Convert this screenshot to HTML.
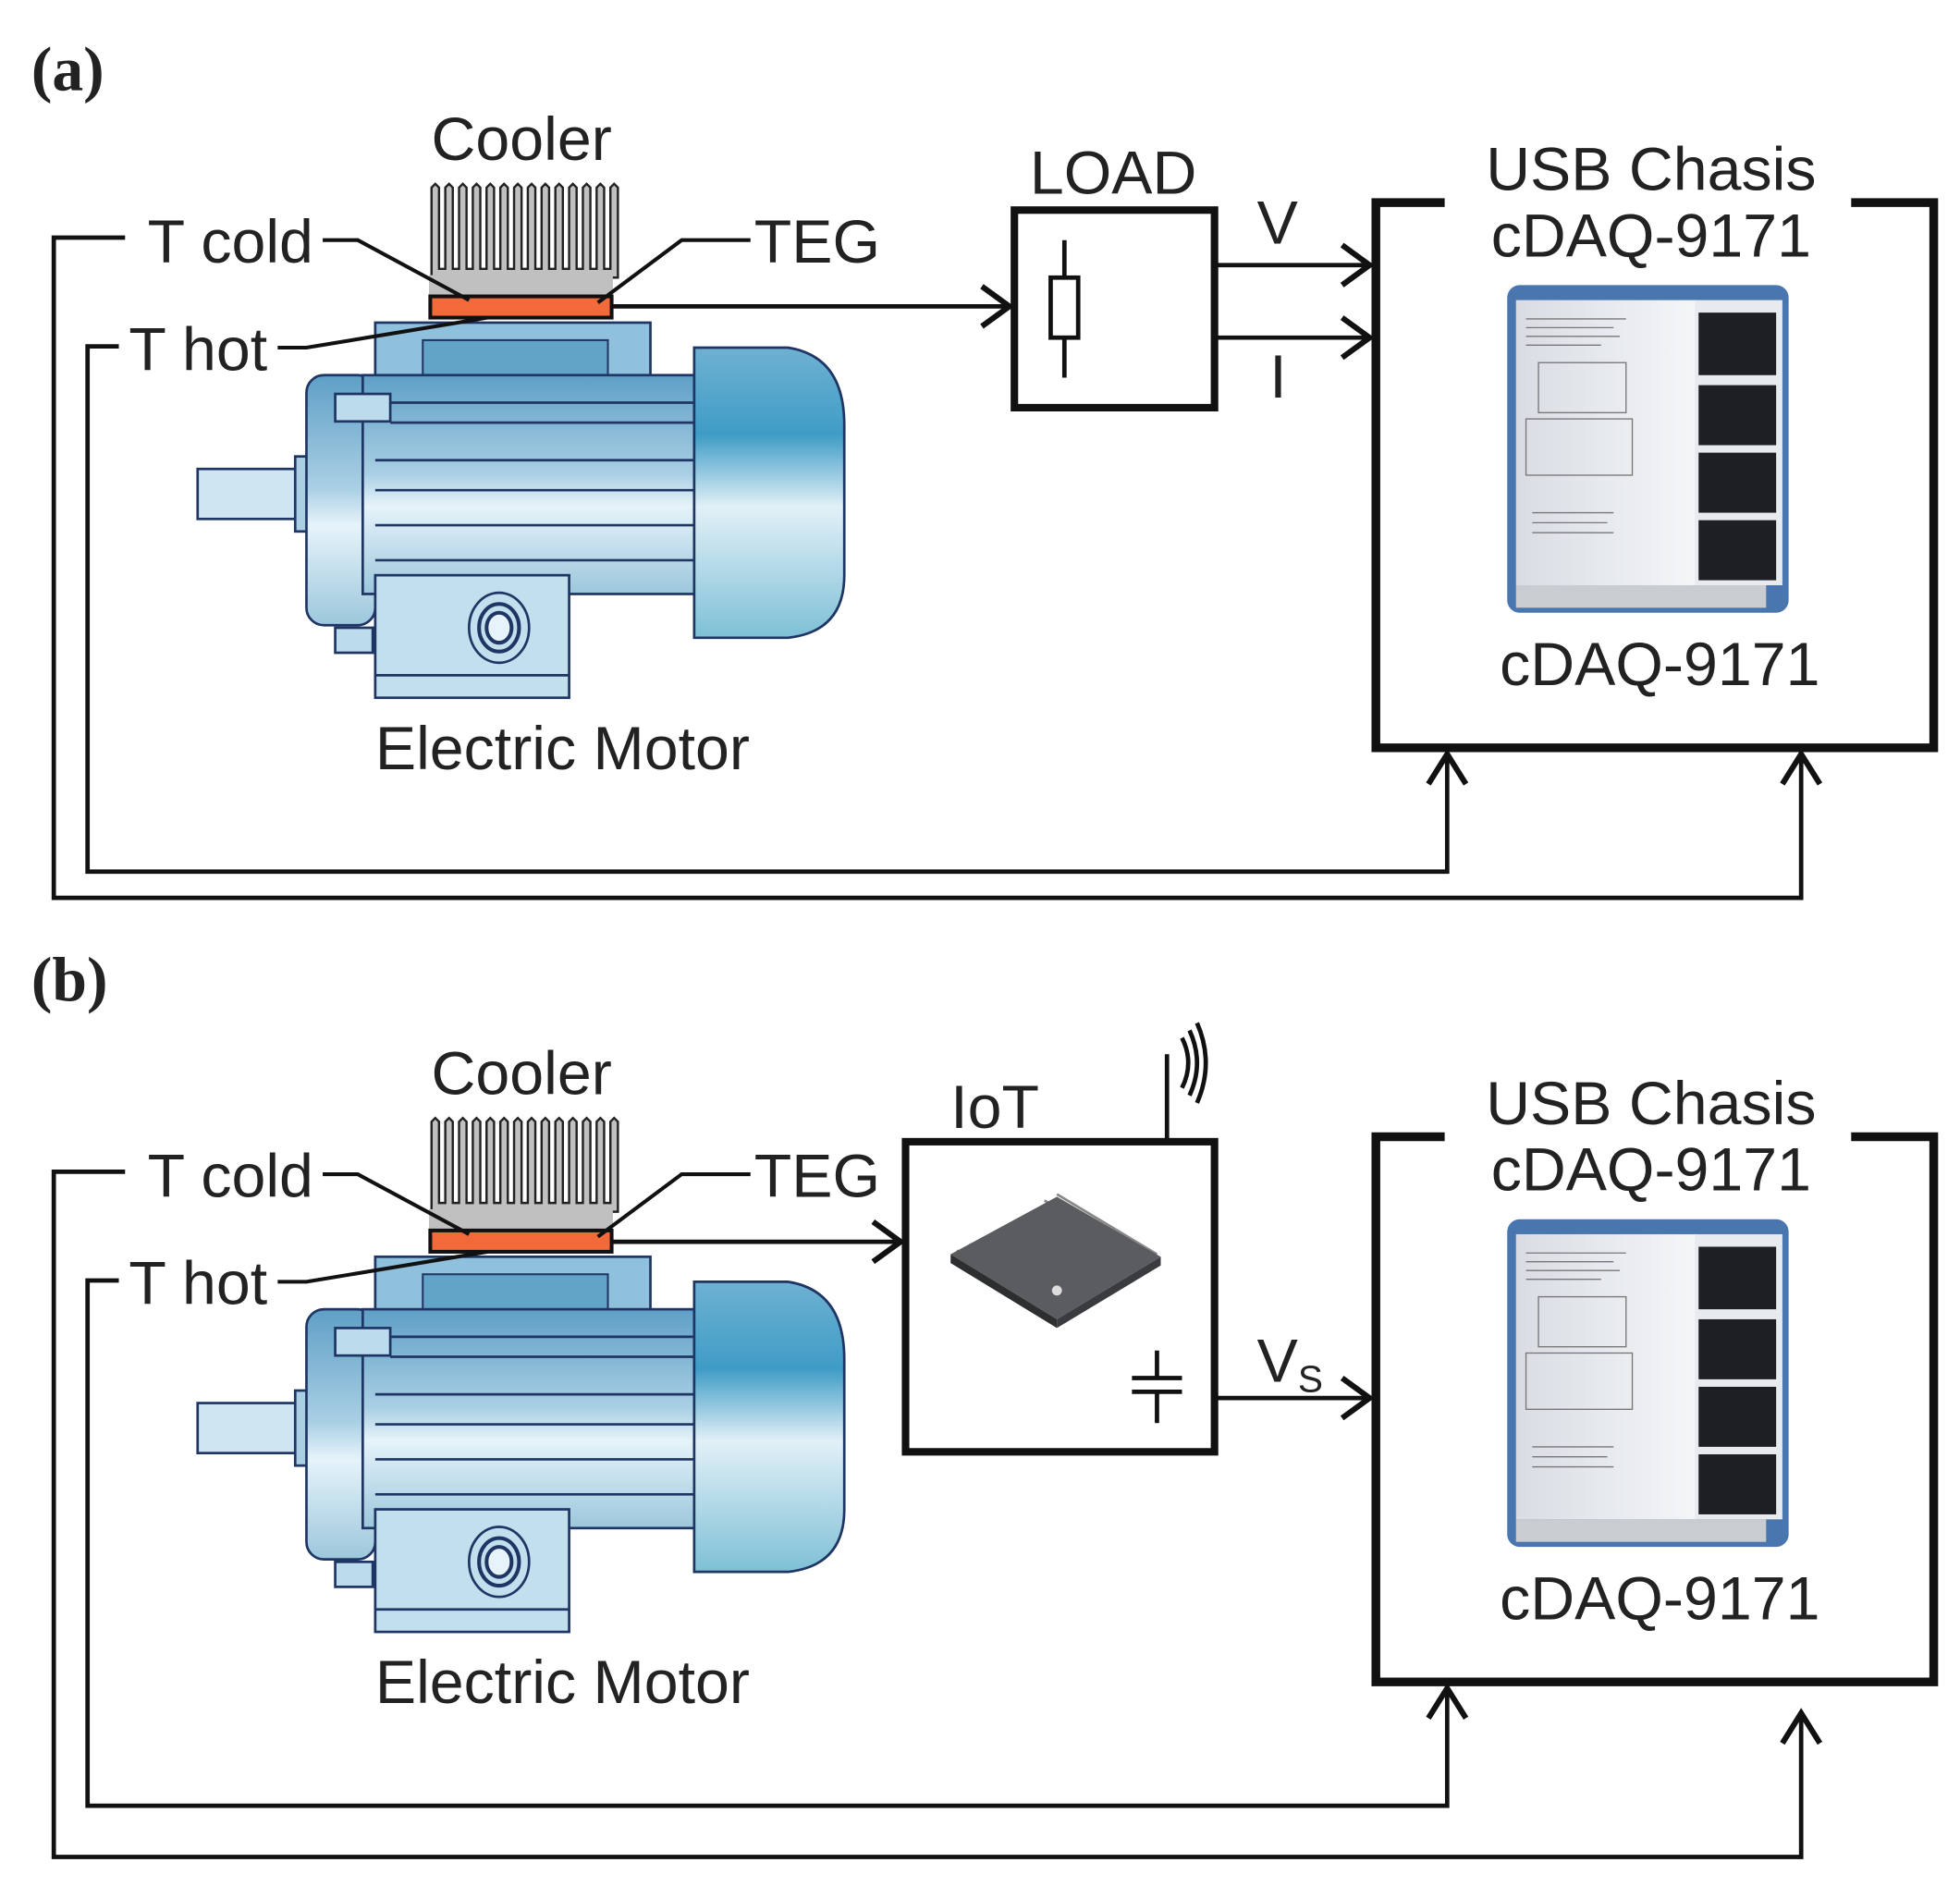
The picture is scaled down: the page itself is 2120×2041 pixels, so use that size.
<!DOCTYPE html>
<html><head><meta charset="utf-8"><style>
html,body{margin:0;padding:0;background:#fff;}
svg{display:block;}
text{font-family:"Liberation Sans",sans-serif;fill:#222;}
.s{font-family:"Liberation Serif",serif;font-weight:bold;fill:#222;}
</style></head><body>
<svg width="2120" height="2041" viewBox="0 0 1567 1509" preserveAspectRatio="none" xmlns="http://www.w3.org/2000/svg">
<defs>
<linearGradient id="bg" x1="0" y1="0" x2="0" y2="1">
<stop offset="0" stop-color="#5f9fc6"/><stop offset="0.45" stop-color="#a9cfe4"/><stop offset="0.6" stop-color="#e6f3fa"/><stop offset="1" stop-color="#9cc7dc"/></linearGradient>
<linearGradient id="fan" x1="0" y1="0" x2="0" y2="1">
<stop offset="0" stop-color="#6fb1d2"/><stop offset="0.3" stop-color="#3f9cc6"/><stop offset="0.55" stop-color="#e2f0f7"/><stop offset="1" stop-color="#7ec0d6"/></linearGradient>
<linearGradient id="mod" x1="0" y1="0" x2="1" y2="0">
<stop offset="0" stop-color="#d9dde3"/><stop offset="1" stop-color="#f4f6f8"/></linearGradient>
<g id="motor" stroke="#1f3563" stroke-width="2">
<rect x="158" y="375" width="85" height="40" fill="#cfe6f2"/>
<rect x="236" y="365" width="10" height="60" fill="#a9cfe4"/>
<rect x="245" y="300" width="55" height="200" rx="14" fill="url(#bg)"/>
<rect x="300" y="258" width="220" height="44" fill="#8fc0dc"/>
<rect x="338" y="272" width="148" height="30" fill="#62a3c8" stroke-width="1.5"/>
<rect x="290" y="300" width="265" height="175" fill="url(#bg)"/>
<line x1="312" y1="322" x2="555" y2="322"/><line x1="312" y1="338" x2="555" y2="338"/>
<line x1="300" y1="368" x2="555" y2="368"/><line x1="300" y1="392" x2="555" y2="392"/>
<line x1="300" y1="420" x2="555" y2="420"/><line x1="300" y1="448" x2="555" y2="448"/>
<rect x="268" y="315" width="44" height="22" fill="#bcdcee"/>
<rect x="268" y="502" width="30" height="20" fill="#bcdcee"/>
<path d="M555 278 H630 Q675 285 675 340 V460 Q675 505 630 510 H555 Z" fill="url(#fan)"/>
<rect x="300" y="460" width="155" height="98" fill="#c2dfee"/>
<line x1="300" y1="540" x2="455" y2="540"/>
<ellipse cx="399" cy="502" rx="24" ry="28" fill="none"/>
<ellipse cx="399" cy="502" rx="16" ry="19" fill="none" stroke-width="3"/>
<ellipse cx="399" cy="502" rx="10" ry="12" fill="#e6f3fa" stroke-width="3"/>
</g>
<g id="module">
<rect x="1205" y="228" width="225" height="262" rx="10" fill="#4a76b0"/>
<rect x="1212" y="240" width="145" height="228" fill="url(#mod)"/>
<rect x="1355" y="240" width="70" height="228" fill="#e8ebee"/>
<g fill="#1d1f22"><rect x="1358" y="250" width="62" height="50"/><rect x="1358" y="308" width="62" height="48"/><rect x="1358" y="362" width="62" height="48"/><rect x="1358" y="416" width="62" height="48"/></g>
<g stroke="#777" stroke-width="1"><line x1="1220" y1="255" x2="1300" y2="255"/><line x1="1220" y1="262" x2="1290" y2="262"/><line x1="1220" y1="269" x2="1295" y2="269"/><line x1="1220" y1="276" x2="1280" y2="276"/><rect x="1230" y="290" width="70" height="40" fill="none"/><rect x="1220" y="335" width="85" height="45" fill="none"/><line x1="1225" y1="410" x2="1290" y2="410"/><line x1="1225" y1="418" x2="1285" y2="418"/><line x1="1225" y1="426" x2="1290" y2="426"/></g>
<rect x="1212" y="468" width="200" height="18" fill="#c9cdd2"/>
</g>
<g id="cool">
<g fill="#c0c0c0" stroke="#222" stroke-width="1.8">
<path d="M345 222 V150 l3 -3 3 3 V215 h5 V150 l3 -3 3 3 V215 h5 V150 l3 -3 3 3 V215 h5 V150 l3 -3 3 3 V215 h5 V150 l3 -3 3 3 V215 h5 V150 l3 -3 3 3 V215 h5 V150 l3 -3 3 3 V215 h5 V150 l3 -3 3 3 V215 h5 V150 l3 -3 3 3 V215 h5 V150 l3 -3 3 3 V215 h5 V150 l3 -3 3 3 V215 h5 V150 l3 -3 3 3 V215 h5 V150 l3 -3 3 3 V215 h5 V150 l3 -3 3 3 V222 Z"/>
</g>
<rect x="343" y="220" width="147" height="17" fill="#c0c0c0"/>
<rect x="344" y="237" width="145" height="17" fill="#f26a3a" stroke="#111" stroke-width="3"/>
<text x="417" y="128" font-size="49" text-anchor="middle">Cooler</text>
<text x="118" y="210" font-size="49">T cold</text>
<text x="603" y="210" font-size="49">TEG</text>
<text x="103" y="296" font-size="49">T hot</text>
<text x="300" y="615" font-size="49">Electric Motor</text>
<g fill="none" stroke="#111" stroke-width="3">
<polyline points="258,192 286,192 375,240"/>
<polyline points="600,192 545,192 478,242"/>
<polyline points="222,278 245,278 390,254"/>
</g>
</g>
<g id="usb">
<path d="M1155 162 H1100 V598 H1546 V162 H1480" fill="none" stroke="#111" stroke-width="7"/>
<text x="1320" y="152" font-size="49" text-anchor="middle">USB Chasis</text>
<text x="1320" y="205" font-size="49" text-anchor="middle">cDAQ-9171</text>
<text x="1327" y="548" font-size="49" text-anchor="middle">cDAQ-9171</text>
</g>
</defs>

<text class="s" x="25" y="72" font-size="50">(a)</text>
<use href="#motor"/><use href="#cool"/><use href="#module"/><use href="#usb"/>
<g fill="none" stroke="#111" stroke-width="3.5">
<polyline points="100,190 43,190 43,718 1440,718 1440,603"/>
<polyline points="95,277 70,277 70,697 1157,697 1157,603"/>
<polyline points="1425,627 1440,603 1455,627" stroke-width="4.5"/>
<polyline points="1142,627 1157,603 1172,627" stroke-width="4.5"/>
<line x1="490" y1="245" x2="807" y2="245"/>
<polyline points="785,229 807,245 785,261" stroke-width="4.5"/>
<rect x="811" y="168" width="160" height="158" stroke-width="6"/>
<line x1="851" y1="192" x2="851" y2="302"/>
<rect x="840" y="222" width="22" height="48" fill="#fff"/>
<line x1="972" y1="212" x2="1095" y2="212"/><polyline points="1073,196 1095,212 1073,228" stroke-width="4.5"/>
<line x1="972" y1="270" x2="1095" y2="270"/><polyline points="1073,254 1095,270 1073,286" stroke-width="4.5"/>
</g>
<text x="890" y="155" font-size="49" text-anchor="middle">LOAD</text>
<text x="1005" y="195" font-size="49">V</text>
<text x="1015" y="318" font-size="49">I</text>

<text class="s" x="25" y="800" font-size="50">(b)</text>
<g transform="translate(0,747)"><use href="#motor"/><use href="#cool"/><use href="#module"/><use href="#usb"/></g>
<g fill="none" stroke="#111" stroke-width="3.5">
<polyline points="100,937 43,937 43,1485 1440,1485 1440,1370"/>
<polyline points="95,1024 70,1024 70,1444 1157,1444 1157,1350"/>
<polyline points="1425,1394 1440,1370 1455,1394" stroke-width="4.5"/>
<polyline points="1142,1374 1157,1350 1172,1374" stroke-width="4.5"/>
<line x1="490" y1="993" x2="720" y2="993"/>
<polyline points="698,977 720,993 698,1009" stroke-width="4.5"/>
<rect x="724" y="913" width="247" height="248" stroke-width="6"/>
<line x1="933" y1="843" x2="933" y2="912"/>
<path d="M945 830 Q955 850 945 870"/><path d="M951 824 Q963 850 951 876"/><path d="M957 818 Q971 850 957 882"/>
<line x1="925" y1="1080" x2="925" y2="1102"/><line x1="905" y1="1102" x2="945" y2="1102"/>
<line x1="905" y1="1113" x2="945" y2="1113"/><line x1="925" y1="1113" x2="925" y2="1138"/>
<line x1="972" y1="1118" x2="1095" y2="1118"/><polyline points="1073,1102 1095,1118 1073,1134" stroke-width="4.5"/>
</g>
<g>
<g stroke="#888" stroke-width="2"><path d="M765 1000 l80 48 M775 995 l80 48 M785 990 l80 48 M845 955 l80 48 M835 960 l80 48"/></g>
<polygon points="760,1003 845,957 928,1005 845,1055" fill="#5a5c60"/>
<polygon points="760,1003 845,1055 845,1062 760,1010" fill="#2d2e30"/>
<polygon points="845,1055 928,1005 928,1012 845,1062" fill="#3a3b3e"/>
<circle cx="845" cy="1032" r="4" fill="#ddd"/>
</g>
<text x="760" y="902" font-size="49">IoT</text>
<text x="1005" y="1105" font-size="49">V<tspan font-size="30" dy="8">S</tspan></text>
</svg>
</body></html>
